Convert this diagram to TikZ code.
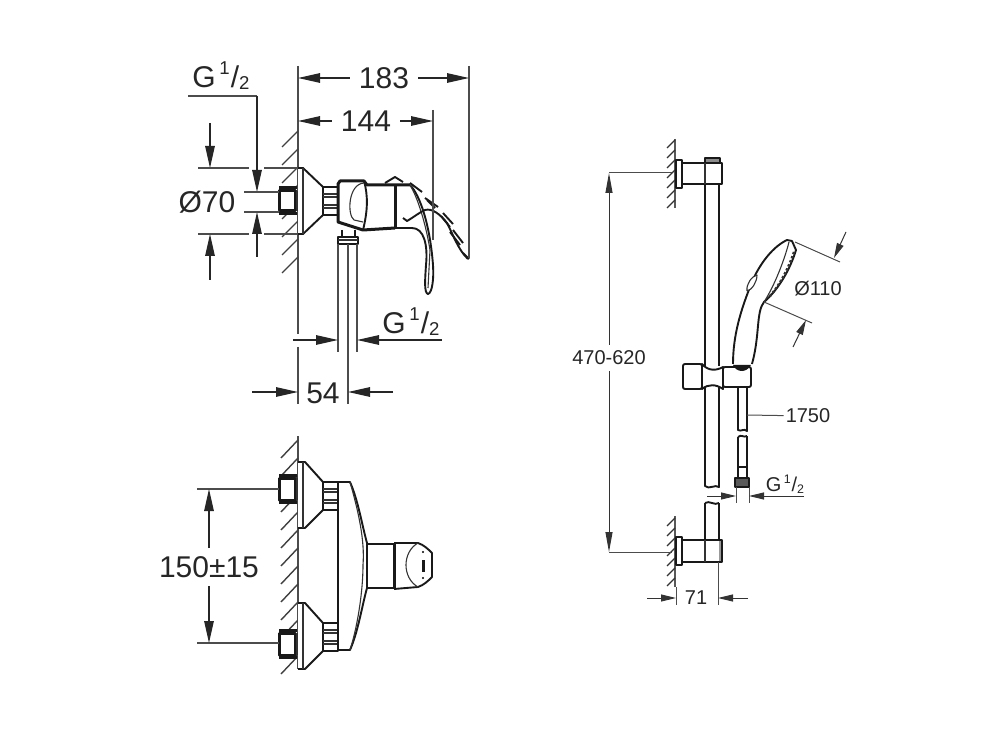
\documentclass[tikz,border=0pt]{standalone}
\usepackage{fontspec}
\setmainfont{Liberation Sans}
\usetikzlibrary{arrows.meta}
\newcommand{\bigtxt}{\fontsize{30}{32}\selectfont}
\newcommand{\smalltxt}{\fontsize{20}{22}\selectfont}
\newcommand{\halfG}{G\kern.12em\raisebox{.42em}{\scalebox{.62}{1}}\kern.04em/\raisebox{-.08em}{\scalebox{.62}{2}}}
\tikzset{
  dimln/.style={line width=1.3pt,color=black!85,-{Triangle[length=22pt,width=9.5pt]}},
  dimsm/.style={line width=1pt,color=black!80,-{Triangle[length=15pt,width=7pt]}},
  extln/.style={line width=1.5pt,color=black!70},
  extsm/.style={line width=1pt,color=black!70},
  hatchln/.style={line width=1.4pt,color=black!75},
  part/.style={line width=1.9pt,color=black!90,line join=round},
  partfat/.style={line width=3pt,color=black!90,line join=round},
  partsm/.style={line width=1.1pt,color=black!80,line join=round},
  biglbl/.style={font=\bigtxt,text=black!85,inner sep=9pt},
  smalllbl/.style={font=\smalltxt,text=black!85,inner sep=6pt}
}
\begin{document}
\begin{tikzpicture}[x=1pt,y=-1pt]
  \useasboundingbox (0,0) rectangle (1005,754);

  % labels
  \node[biglbl] (lbl183) at (384,78) {183};
  \node[biglbl] (lbl144) at (366,121) {144};
  \node[biglbl] (lblG1) at (221,76) {\halfG};
  \node[biglbl] (lblD70) at (207,202) {Ø70};
  \node[biglbl] (lblG2) at (411,322) {\halfG};
  \node[biglbl,inner sep=2pt] (lbl54) at (323,393) {54};
  \node[biglbl,inner sep=8pt] (lbl150) at (209,567) {150±15};
  \node[smalllbl] (lbl470) at (609,358) {470-620};
  \node[smalllbl] (lblD110) at (818,289) {Ø110};
  \node[smalllbl,inner sep=2pt] (lbl1750) at (808,416) {1750};
  \node[smalllbl] (lblG3) at (785,484) {\halfG};
  \node[smalllbl,inner sep=2pt] (lbl71) at (696,598) {71};

  % top view, wall
  \draw[extln] (298,66) -- (298,334);
  \draw[extln] (298,347) -- (298,404);
  \foreach \y in {131,149,167,185,203,221,239,257}
    \draw[hatchln] (298,\y) -- ++(-16,16);

  % top view, mixer
  \draw[partfat] (279,188) -- (297,188);
  \draw[partfat] (279,214) -- (297,214);
  \draw[partfat,fill=white] (279,191) rectangle (295,211);
  \draw[partsm] (297,191) -- (297,211);
  \draw[part,fill=white] (298,168) -- (303,168) -- (323,187) -- (323,215) -- (303,234) -- (298,234);
  \draw[partsm] (303,168) -- (303,234);
  \draw[part] (323,187) rectangle (338,215);
  \foreach \y in {194,197,205,208}
    \draw[partsm] (323,\y) -- (338,\y);
  \draw[partfat] (338,215) -- (338,184) -- (340,181) -- (364,181) -- (367,185) -- (410,185);
  \draw[partfat] (338,215) -- (338,222) -- (363,230) -- (395,228);
  \draw[part] (364,181) .. controls (368,195) and (368,210) .. (363,230);
  \draw[partsm] (364,183) .. controls (348,184) and (347,215) .. (354,220) -- (363,222);
  \draw[partfat] (395,185) -- (395,228);

  % lever
  \draw[part] (410,185) .. controls (420,195) and (430,225) .. (433,265) .. controls (434,280) and (432,293) .. (428,294)
    .. controls (424,293) and (425,280) .. (426,265) .. controls (428,245) and (424,228) .. (412,228) -- (395,228);
  \draw[partsm] (410,185) .. controls (418,198) and (426,225) .. (430,250);
  \draw[partsm] (430,250) -- (428,288);

  % swung lever
  \draw[part] (385,183) -- (395,177) -- (403,182);
  \foreach \xa/\ya/\xb/\yb in {410/183/422/192,425/198/438/207,443/213/453/224,453/230/463/243,463/253/469/259,
    427/200/435/208,441/216/450/227,450/232/460/245}
    \draw[part] (\xa,\ya) -- (\xb,\yb);
  \draw[part] (403,218) -- (407,221) .. controls (414,217) and (420,212) .. (425,210)
    .. controls (432,208) and (440,214) .. (447,223) .. controls (452,232) and (458,250) .. (468,259);

  % top view, hose
  \draw[part] (342,230) -- (342,237);
  \draw[part] (355,230) -- (355,237);
  \draw[part,fill=white] (338,237) rectangle (358,244);
  \draw[partsm] (338,240) -- (358,240);
  \draw[extln] (338,244) -- (338,352);
  \draw[extln] (357,244) -- (357,352);
  \draw[extln] (348,244) -- (348,404);
  \draw[extln] (433,110) -- (433,240);
  \draw[extln] (469,66) -- (469,258);

  % top view, dimensions
  \coordinate (r183a) at (298,78);
  \coordinate (r183b) at (469,78);
  \coordinate (r144a) at (298,121);
  \coordinate (r144b) at (433,121);
  \draw[dimln] (lbl183) -- (r183a);
  \draw[dimln] (lbl183) -- (r183b);
  \draw[dimln] (lbl144) -- (r144a);
  \draw[dimln] (lbl144) -- (r144b);

  \coordinate (g1a) at (188,96);
  \coordinate (g1b) at (257,96);
  \coordinate (g1c) at (257,192);
  \coordinate (g1d) at (257,257);
  \coordinate (g1e) at (257,212);
  \draw[extln] (g1a) -- (g1b);
  \draw[dimln] (g1b) -- (g1c);
  \draw[dimln] (g1d) -- (g1e);

  \coordinate (d70a) at (210,123);
  \coordinate (d70b) at (210,168);
  \coordinate (d70c) at (210,280);
  \coordinate (d70d) at (210,234);
  \draw[dimln] (d70a) -- (d70b);
  \draw[dimln] (d70c) -- (d70d);
  \foreach \y in {168,234} {
    \draw[extln] (198,\y) -- (249,\y);
    \draw[extln] (264,\y) -- (298,\y);
  }
  \foreach \y in {192,212}
    \draw[extln] (244,\y) -- (279,\y);

  \coordinate (g2a) at (293,340);
  \coordinate (g2b) at (338,340);
  \coordinate (g2c) at (442,340);
  \coordinate (g2d) at (357,340);
  \draw[dimln] (g2a) -- (g2b);
  \draw[dimln] (g2c) -- (g2d);

  \coordinate (r54a) at (252,392);
  \coordinate (r54b) at (298,392);
  \coordinate (r54c) at (393,392);
  \coordinate (r54d) at (348,392);
  \draw[dimln] (r54a) -- (r54b);
  \draw[dimln] (r54c) -- (r54d);

  % front view, wall
  \draw[extln] (298,436) -- (298,669);
  \foreach \y in {440,458,476,494,512,530,548,566,584,602,620,638,656}
    \draw[hatchln] (298,\y) -- ++(-17,18);

  % front view, mixer
  \foreach \t in {0,155} {
    \begin{scope}[yshift=-\t pt]
      \draw[partfat] (279,475) -- (297,475);
      \draw[partfat] (279,502) -- (297,502);
      \draw[partfat,fill=white] (279,478) rectangle (295,500);
      \draw[partsm] (297,478) -- (297,500);
    \end{scope}
  }
  \foreach \t in {0,141} {
    \begin{scope}[yshift=-\t pt]
      \draw[part,fill=white] (298,462) -- (305,462) -- (323,482) -- (323,510) -- (305,528) -- (298,528);
      \draw[partsm] (303,462) -- (303,528);
      \draw[part,fill=white] (323,482) rectangle (338,510);
      \foreach \y in {489,492,500,503}
        \draw[partsm] (323,\y) -- (338,\y);
    \end{scope}
  }
  \draw[part] (338,482) -- (338,650);
  \draw[part] (338,482) -- (350,482) .. controls (358,500) and (362,525) .. (367,543) -- (367,588)
    .. controls (362,606) and (358,632) .. (350,650) -- (338,650);
  \draw[partsm] (350,482) .. controls (358,510) and (365,540) .. (363,565) .. controls (363,590) and (358,625) .. (350,650);
  \draw[part] (367,544) -- (393,544);
  \draw[part] (367,588) -- (393,588);
  \draw[partfat] (394,543) -- (394,589);
  \draw[part] (394,543) -- (418,543) .. controls (424,545) and (428,549) .. (432,553) -- (432,577)
    .. controls (428,581) and (424,585) .. (418,587) -- (394,589);
  \draw[partsm] (418,543) .. controls (402,552) and (402,578) .. (418,587);
  \draw[partfat] (423,560) -- (423,572);
  \fill (423,552) circle (1.2);
  \fill (423,578) circle (1.2);

  % front view, dimension
  \coordinate (r150a) at (209,489);
  \coordinate (r150b) at (209,643);
  \draw[extln] (197,489) -- (279,489);
  \draw[extln] (197,643) -- (279,643);
  \draw[dimln] (lbl150) -- (r150a);
  \draw[dimln] (lbl150) -- (r150b);

  % rail, wall and brackets
  \foreach \ya/\yb in {139/208,516/587} {
    \draw[line width=2pt,color=black!65] (675,\ya) -- (675,\yb);
  }
  \foreach \y in {140,150,160,170,180,190,200,518,528,538,548,558,568,578}
    \draw[partsm] (675,\y) -- ++(-8,8);
  \draw[part,fill=white] (676,160) rectangle (682,188);
  \draw[part,fill=white] (682,163) rectangle (722,184);
  \draw[part,fill=black!45] (705,158) rectangle (720,163);
  \draw[partsm] (705,163) -- (705,184);
  \draw[part,fill=white] (676,537) rectangle (682,565);
  \draw[part,fill=white] (682,540) rectangle (722,562);
  \draw[partsm] (705,540) -- (705,562);
  \draw[line width=2pt,color=black!40] (720,541) -- (720,561);

  % rail tube
  \draw[part] (705,184) -- (705,366);
  \draw[part] (719,184) -- (719,366);
  \draw[part] (705,387) -- (705,486) .. controls (709,490) and (715,484) .. (719,487) -- (719,387);
  \draw[part] (705,503) .. controls (709,500) and (715,506) .. (719,503);
  \draw[part] (705,503) -- (705,540);
  \draw[part] (719,503) -- (719,540);

  % slider
  \draw[part,fill=white,rounded corners=2pt] (683,364) rectangle (702,389);
  \draw[part,fill=white] (702,364) .. controls (708,371) and (716,371) .. (723,367) -- (723,389)
    .. controls (716,384) and (708,384) .. (702,389) -- cycle;
  \draw[part,fill=white,rounded corners=2pt] (723,367) rectangle (751,387);

  % hand shower
  \draw[part,fill=white] (733,364) .. controls (733,335) and (741,310) .. (750,287)
    .. controls (756,270) and (770,248) .. (787,240) -- (792,241) -- (796,250)
    .. controls (790,270) and (778,290) .. (764,302)
    .. controls (756,312) and (760,335) .. (752,364);
  \draw[partsm] (789,242) .. controls (785,258) and (775,285) .. (764,302);
  \draw[line width=2.4pt,dotted,color=black!80] (794,252) .. controls (788,270) and (778,288) .. (768,298);
  \draw[partsm,fill=white] (747,291) .. controls (746,284) and (752,276) .. (757,275) .. controls (757,282) and (752,290) .. (747,291);
  \fill[black!90] (733,365) -- (751,365) .. controls (749,369) and (745,371) .. (742,371) .. controls (738,371) and (735,369) .. (733,365);

  % hose and fitting
  \draw[part] (738,388) -- (738,430) .. controls (741,432) and (744,428) .. (747,431) -- (747,388);
  \draw[part] (738,437) .. controls (741,434) and (744,438) .. (747,436);
  \draw[part] (738,437) -- (738,467);
  \draw[part] (747,436) -- (747,467);
  \draw[part] (738,467) rectangle (747,478);
  \draw[part,fill=black!65] (735,478) rectangle (749,487);

  % rail dimensions
  \coordinate (r470a) at (609,173);
  \coordinate (r470b) at (609,552);
  \draw[extsm] (609,173) -- (672,173);
  \draw[extsm] (609,552) -- (672,552);
  \draw[dimsm,-{Triangle[length=20pt,width=7pt]}] (lbl470) -- (r470a);
  \draw[dimsm,-{Triangle[length=20pt,width=7pt]}] (lbl470) -- (r470b);

  \coordinate (d110a) at (846,232);
  \coordinate (d110b) at (834,258);
  \coordinate (d110c) at (793,347);
  \coordinate (d110d) at (806,320);
  \draw[extsm] (795,242) -- (840,262);
  \draw[extsm] (764,302) -- (812,323);
  \draw[dimsm] (d110a) -- (d110b);
  \draw[dimsm] (d110c) -- (d110d);

  \coordinate (h1750) at (747,415);
  \draw[extsm] (lbl1750) -- (h1750);

  \coordinate (g3a) at (707,496);
  \coordinate (g3b) at (736,496);
  \coordinate (g3c) at (804,496);
  \coordinate (g3d) at (749,496);
  \draw[extsm] (736,487) -- (736,503);
  \draw[extsm] (749,487) -- (749,503);
  \draw[dimsm] (g3a) -- (g3b);
  \draw[dimsm] (g3c) -- (g3d);

  \coordinate (r71a) at (647,598);
  \coordinate (r71b) at (676,598);
  \coordinate (r71c) at (748,598);
  \coordinate (r71d) at (718,598);
  \draw[extsm] (676,587) -- (676,605);
  \draw[extsm] (718,562) -- (718,605);
  \draw[dimsm] (r71a) -- (r71b);
  \draw[dimsm] (r71c) -- (r71d);
\end{tikzpicture}
\end{document}
